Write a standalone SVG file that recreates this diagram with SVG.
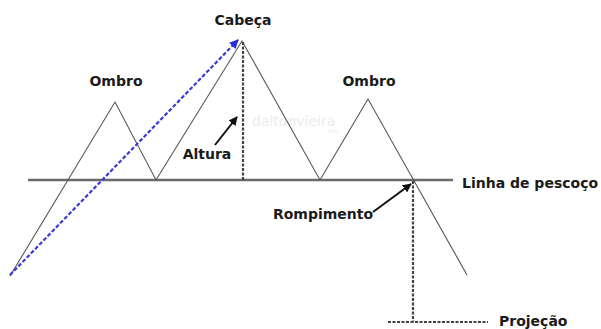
<svg xmlns="http://www.w3.org/2000/svg" width="601" height="329" viewBox="0 0 601 329">
<style>
.lbl{font-family:"DejaVu Sans",Verdana,sans-serif;font-weight:bold;font-size:14px;fill:#1a1a1a;}
.price{fill:none;stroke:#555;stroke-width:1.1;}
.neck{stroke:#6a6a6a;stroke-width:2.5;}
.dash{stroke:#444;stroke-width:2.2;stroke-dasharray:3,1.5;fill:none;}
.blue{stroke:#3a3ad8;stroke-width:2.2;stroke-dasharray:4,2;fill:none;}
.black{stroke:#111;stroke-width:2;fill:none;}
.wm{font-family:"DejaVu Sans",sans-serif;fill:#ebebeb;}
</style>
<defs>
<marker id="ab" viewBox="0 0 10 10" refX="9" refY="5" markerWidth="10" markerHeight="9" orient="auto" markerUnits="userSpaceOnUse">
<path d="M0,0 L10,5 L0,10 z" fill="#2a2ad8"/>
</marker>
<marker id="ak" viewBox="0 0 10 10" refX="9" refY="5" markerWidth="9" markerHeight="9" orient="auto" markerUnits="userSpaceOnUse">
<path d="M0,0 L10,5 L0,10 z" fill="#111"/>
</marker>
</defs>
<rect width="601" height="329" fill="#fff"/>
<g id="watermark">
<text class="wm" x="252" y="126" font-size="14">daltonvieira</text>
<text class="wm" x="326" y="133" font-size="5">.com</text>
</g>
<g id="connectors">
<line id="neckline" class="neck" x1="28" y1="180" x2="453" y2="180"/>
<polyline id="price" class="price" points="10,276 115,102 156,180 242,41 320,180 368,99 467,275"/>
<line id="altura-line" class="dash" x1="243" y1="42" x2="243" y2="180"/>
<line id="proj-v" class="dash" x1="413" y1="181" x2="413" y2="322"/>
<line id="proj-h" class="dash" x1="388" y1="322" x2="488" y2="322"/>
<line id="blue-arrow" class="blue" x1="10" y1="275" x2="238" y2="40" marker-end="url(#ab)"/>
<line id="altura-arrow" class="black" x1="215" y1="145" x2="237" y2="117" marker-end="url(#ak)"/>
<line id="romp-arrow" class="black" x1="373" y1="212" x2="411" y2="184" marker-end="url(#ak)"/>
</g>
<g id="cabeca"><text class="lbl" x="243" y="25" text-anchor="middle" font-size="14.5">Cabeça</text></g>
<g id="ombro-esq"><text class="lbl" x="116" y="86" text-anchor="middle" font-size="14.5">Ombro</text></g>
<g id="ombro-dir"><text class="lbl" x="369" y="86" text-anchor="middle" font-size="14.5">Ombro</text></g>
<g id="altura"><text class="lbl" x="207" y="159" text-anchor="middle">Altura</text></g>
<g id="rompimento"><text class="lbl" x="323" y="219" text-anchor="middle">Rompimento</text></g>
<g id="linha"><text class="lbl" x="462" y="188" font-size="14.5">Linha de pescoço</text></g>
<g id="projecao"><text class="lbl" x="499" y="326">Projeção</text></g>
</svg>
